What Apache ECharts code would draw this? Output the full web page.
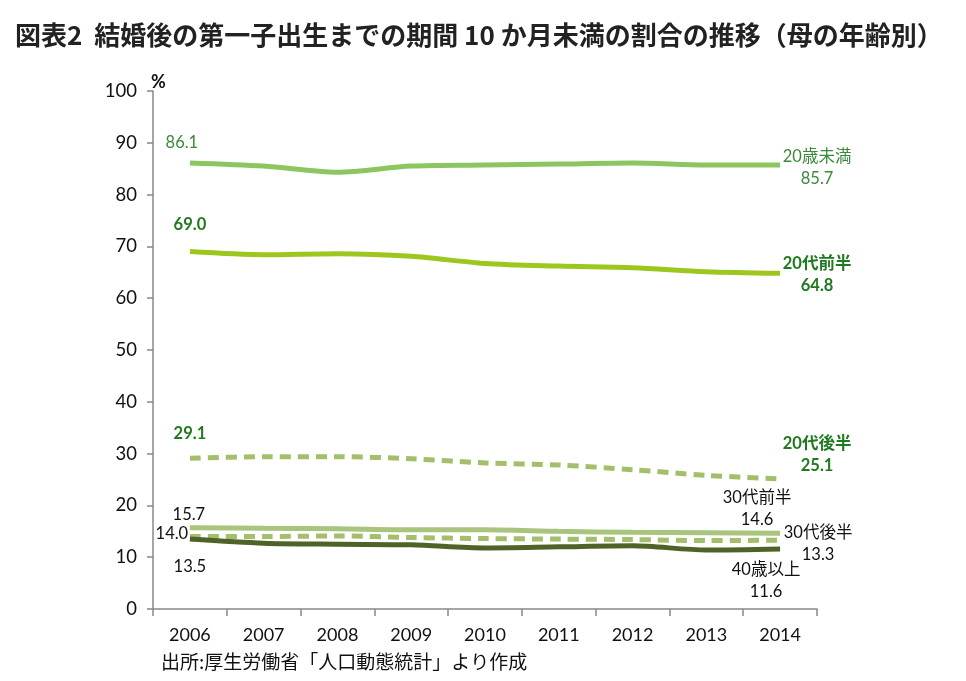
<!DOCTYPE html>
<html><head><meta charset="utf-8">
<script src="https://cdn.jsdelivr.net/npm/echarts@6/dist/echarts.min.js"></script>
<style>html,body{margin:0;padding:0;background:#fff}#c{width:966px;height:681px}</style>
</head><body><div id="c"></div>
<script>
const years = ['2006','2007','2008','2009','2010','2011','2012','2013','2014'];
const under20 = [86.1, 85.5, 84.3, 85.5, 85.7, 85.9, 86.1, 85.7, 85.7];
const early20s = [69.0, 68.4, 68.6, 68.1, 66.7, 66.2, 65.9, 65.1, 64.8];
const late20s = [29.1, 29.4, 29.4, 29.0, 28.2, 27.8, 26.9, 25.8, 25.1];
const early30s = [15.7, 15.6, 15.5, 15.3, 15.3, 15.0, 14.8, 14.7, 14.6];
const late30s = [14.0, 14.0, 14.1, 13.8, 13.6, 13.5, 13.4, 13.2, 13.3];
const over40 = [13.5, 12.7, 12.5, 12.4, 11.8, 12.0, 12.2, 11.4, 11.6];
const names = ['20歳未満','20代前半','20代後半','30代前半','30代後半','40歳以上'];
const yTicks = [0,10,20,30,40,50,60,70,80,90,100];

const F = '"Noto Sans CJK JP", sans-serif';
const NF = 'Lato, "Noto Sans CJK JP", sans-serif';

function mk(name, vals, o) {
  const last = vals.length - 1;
  const data = vals.map((v, i) => {
    if (i === 0) {
      return {value: v, label: {show: true, formatter: v.toFixed(1), position: o.sp,
        align: 'center', verticalAlign: 'middle',
        color: o.lc, fontWeight: o.fw, fontFamily: NF, fontSize: 16.5}};
    }
    if (i === last) {
      return {value: v, label: {show: true, formatter: name + '\n' + v.toFixed(1), position: o.ep,
        align: 'center', verticalAlign: 'middle',
        color: o.lc, fontWeight: o.fw, fontFamily: NF, fontSize: 16.5, lineHeight: 22}};
    }
    return {value: v, label: {show: false}};
  });
  return {
    name, type: 'line', data, smooth: 0.3, symbol: 'circle', symbolSize: 0.01, showSymbol: true,
    showAllSymbol: true, z: o.z || 2,
    itemStyle: {color: o.c},
    lineStyle: {color: o.c, width: 5, type: o.dash ? [11,7] : 'solid', cap: 'butt'},
    labelLayout: {hideOverlap: false},
    emphasis: {disabled: true}
  };
}

const chart = echarts.init(document.getElementById('c'), null, {renderer: 'canvas'});
chart.setOption({
  animation: false,
  backgroundColor: '#fff',
  title: [{
    text: '図表2  結婚後の第一子出生までの期間 10 か月未満の割合の推移（母の年齢別）',
    left: 10, top: 17,
    textStyle: {fontFamily: F, fontSize: 26, fontWeight: 'bold', color: '#222'}
  }, {
    text: '出所:厚生労働省「人口動態統計」より作成',
    left: 156, top: 647,
    textStyle: {fontFamily: F, fontSize: 19, fontWeight: 'normal', color: '#111'}
  }],
  grid: {left: 153, right: 149, top: 91, bottom: 72, containLabel: false},
  xAxis: {
    type: 'category', data: years, boundaryGap: true,
    axisLine: {lineStyle: {color: '#888', width: 1.5}},
    axisTick: {show: true, length: 7, lineStyle: {color: '#888', width: 1.5}},
    axisLabel: {fontFamily: NF, fontSize: 18, color: '#111', margin: 17}
  },
  yAxis: {
    type: 'value', min: 0, max: 100, interval: 10,
    name: '%', nameLocation: 'end', nameGap: 0,
    nameTextStyle: {fontFamily: NF, fontSize: 18, fontWeight: 'bold', color: '#111', align: 'left', padding: [0,0,0,-2]},
    axisLine: {show: true, lineStyle: {color: '#888', width: 1.5}},
    axisTick: {show: true, length: 6, inside: false, lineStyle: {color: '#888', width: 1.5}},
    splitLine: {show: false},
    axisLabel: {fontFamily: NF, fontSize: 18.5, color: '#111', margin: 16,
      formatter: v => yTicks.includes(v) ? String(v) : ''}
  },
  series: [
    mk(names[0], under20, {c: '#8dc661', lc: '#3b8a3b', fw: 'normal', sp: [-8,-20], ep: [37,3]}),
    mk(names[1], early20s, {c: '#9dc71f', lc: '#1f7a1f', fw: 'bold', sp: [0,-27], ep: [37,1]}),
    mk(names[2], late20s, {c: '#a4bf6c', lc: '#1f7a1f', fw: 'bold', dash: true, sp: [0,-25], ep: [37,-24]}),
    mk(names[3], early30s, {c: '#a9c47c', lc: '#111', fw: 'normal', sp: [-1,-13], ep: [-23,-25]}),
    mk(names[4], late30s, {c: '#a4bf6c', lc: '#111', fw: 'normal', dash: true, sp: [-18,-3], ep: [38,4]}),
    mk(names[5], over40, {c: '#4f6228', lc: '#111', fw: 'normal', sp: [0,28], ep: [-14,32], z: 3})
  ]
});
</script></body></html>
